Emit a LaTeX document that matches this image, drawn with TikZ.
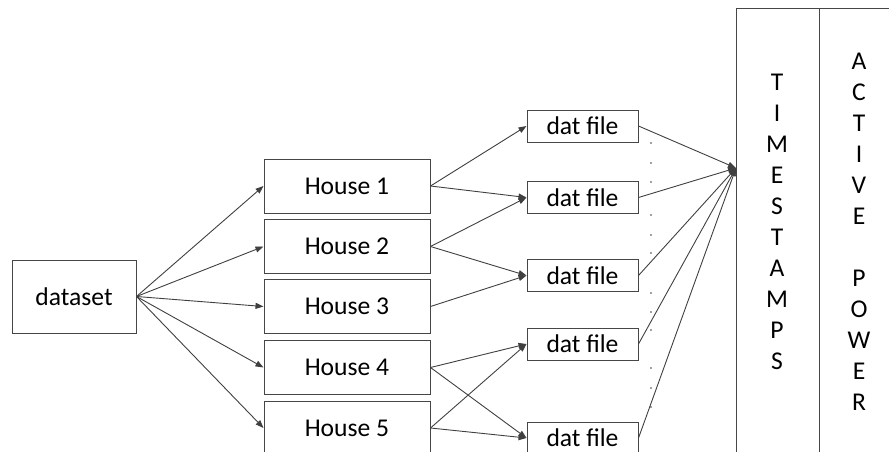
\documentclass[tikz,border=0pt]{standalone}
\usepackage{fontspec}
\setmainfont{Carlito}
\usetikzlibrary{arrows.meta}
\definecolor{ln}{RGB}{64,64,64}
\definecolor{bd}{RGB}{70,70,70}
\begin{document}
\begin{tikzpicture}[x=1pt,y=-1pt,
  box/.style={draw=bd,line width=1pt,inner sep=0pt,font=\fontsize{25.6}{30}\selectfont},
  housebox/.style={box,minimum width=166pt,minimum height=54pt},
  datbox/.style={box,minimum width=111pt,minimum height=32pt},
  conn/.style={draw=ln,line width=0.9pt,-{Triangle[length=8pt,width=6pt]}},
  dotmark/.style={circle,fill=ln,inner sep=0pt,minimum size=1.6pt},
  vtext/.style={align=center,inner sep=0pt,font=\fontsize{25.6}{31}\selectfont}]
\useasboundingbox (0,0) rectangle (889,452);
\clip (0,0) rectangle (889,452);
\node[box,minimum width=124pt,minimum height=73pt] (ds) at (74,296.5) {dataset};
\node[housebox] (h1) at (347,186) {House 1};
\node[housebox] (h2) at (347,246.5) {House 2};
\node[housebox] (h3) at (347,306.5) {House 3};
\node[housebox] (h4) at (347,367.5) {House 4};
\node[housebox] (h5) at (347,428) {House 5};
\node[datbox] (d1) at (582.5,126) {dat file};
\node[datbox] (d2) at (582.5,197.5) {dat file};
\node[datbox] (d3) at (582.5,275.5) {dat file};
\node[datbox] (d4) at (582.5,344) {dat file};
\node[datbox] (d5) at (582.5,438) {dat file};
% big table
\draw[bd,line width=1pt] (736,470) -- (736,9) -- (900,9);
\draw[bd,line width=1pt] (819,9) -- (819,470);
\coordinate (tgt) at (736,168);
\node[vtext] (ts) at (777,222) {T\\I\\M\\E\\S\\T\\A\\M\\P\\S};
\node[vtext] (ap) at (859,232) {A\\C\\T\\I\\V\\E\\[31pt]P\\O\\W\\E\\R};
% dataset to houses
\foreach \h in {h1,h2,h3,h4,h5} \draw[conn] (ds.east) -- (\h.west);
% houses to dat files
\draw[conn] (h1.east) -- (d1.west);
\draw[conn] (h1.east) -- (d2.west);
\draw[conn] (h2.east) -- (d2.west);
\draw[conn] (h2.east) -- (d3.west);
\draw[conn] (h3.east) -- (d3.west);
\draw[conn] (h4.east) -- (d4.west);
\draw[conn] (h4.east) -- (d5.west);
\draw[conn] (h5.east) -- (d4.west);
\draw[conn] (h5.east) -- (d5.west);
% dat files to table
\foreach \d in {d1,d2,d3,d4,d5} \draw[conn] (\d.east) -- (tgt);
% dots
\foreach \y in {143,163,182,215,235,253,293,312,330,368,388,407}
  \node[dotmark] at (651,\y) {};
\end{tikzpicture}
\end{document}
